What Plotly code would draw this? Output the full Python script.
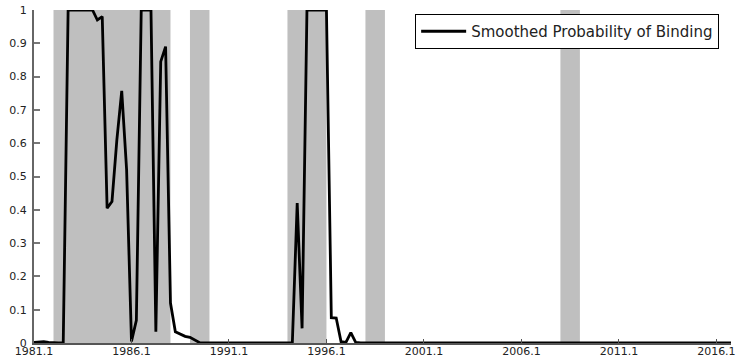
import plotly.graph_objects as go

# Quarterly smoothed probability, 1981Q1 .. 2016Q4
start_year = 1981
prob_binding = (
    [0.002, 0.004, 0.004, 0.002, 0.0, 0.0, 0.0,
     1.0, 1.0, 1.0, 1.0, 1.0, 1.0, 0.97, 0.98,
     0.405, 0.425, 0.61, 0.757, 0.52, 0.005, 0.068,
     1.0, 1.0, 1.0, 0.034, 0.845, 0.89, 0.12,
     0.034, 0.027, 0.02, 0.017, 0.008, 0.001]
    + [0.0] * 19
    + [0.42, 0.044, 1.0, 1.0, 1.0, 1.0, 1.0, 0.076, 0.075,
       0.004, 0.002, 0.031, 0.002]
    + [0.0] * 77
)
dates = [start_year + i / 4 for i in range(len(prob_binding))]

# Shaded periods (start, end) in years
shade_start = [1982.0, 1989.0, 1994.0, 1998.0, 2008.0]
shade_end = [1988.0, 1990.0, 1996.0, 1999.0, 2009.0]

tick_years = [1981, 1986, 1991, 1996, 2001, 2006, 2011, 2016]
tick_labels = ["1981.1", "1986.1", "1991.1", "1996.1", "2001.1", "2006.1", "2011.1", "2016.1"]
y_ticks = [0, 0.1, 0.2, 0.3, 0.4, 0.5, 0.6, 0.7, 0.8, 0.9, 1]
y_labels = ["0", "0.1", "0.2", "0.3", "0.4", "0.5", "0.6", "0.7", "0.8", "0.9", "1"]

fig = go.Figure()
fig.add_trace(go.Scatter(
    x=dates, y=prob_binding, mode="lines",
    name="Smoothed Probability of Binding",
    line=dict(color="black", width=2.8),
))

for s, e in zip(shade_start, shade_end):
    fig.add_shape(type="rect", xref="x", yref="y", x0=s, x1=e, y0=0, y1=1,
                  fillcolor="#bfbfbf", line=dict(width=0), layer="below")

font = dict(family="DejaVu Sans", size=11, color="#222222")
fig.update_layout(
    width=739, height=357,
    margin=dict(l=34, r=8, t=10, b=14),
    paper_bgcolor="white", plot_bgcolor="white",
    font=font,
    showlegend=True,
    legend=dict(
        x=0.983, y=0.988, xanchor="right", yanchor="top",
        bgcolor="white", bordercolor="black", borderwidth=1,
        font=dict(family="DejaVu Sans", size=15, color="#222222"),
        itemwidth=45, tracegroupgap=0,
    ),
    xaxis=dict(
        range=[1981, 2016.75], tickvals=tick_years, ticktext=tick_labels,
        ticks="inside", ticklen=4, tickcolor="#555555", tickwidth=1,
        showline=True, linecolor="#555555", linewidth=1.5,
        showgrid=False, zeroline=False, ticklabelstandoff=-3,
        automargin=False,
    ),
    yaxis=dict(
        range=[0, 1], tickvals=y_ticks, ticktext=y_labels,
        ticks="inside", ticklen=6, tickcolor="#777777", tickwidth=1.5,
        showline=True, linecolor="#666666", linewidth=2,
        showgrid=False, zeroline=False, ticklabelstandoff=3,
        automargin=False,
    ),
)

fig.write_html("out.html", config={"displayModeBar": False},
               post_script="document.body.style.margin='0';")
